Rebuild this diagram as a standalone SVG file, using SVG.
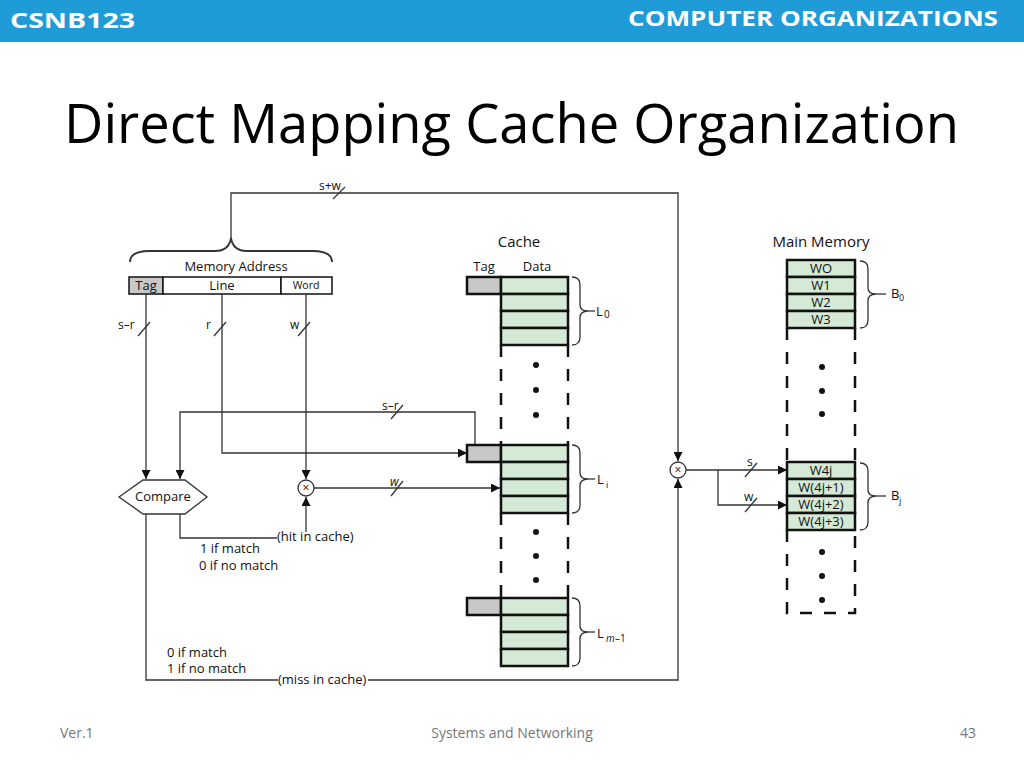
<svg xmlns="http://www.w3.org/2000/svg" width="1024" height="768" viewBox="0 0 1024 768">
<defs>
<marker id="ah" viewBox="0 0 10 10" refX="10" refY="5" markerWidth="9" markerHeight="9" markerUnits="userSpaceOnUse" orient="auto"><path d="M0,0 L10,5 L0,10 z" fill="#111"/></marker>
<style>
text{font-family:"Open Sans","Liberation Sans",sans-serif;fill:#111}
.c{fill:none;stroke:#333;stroke-width:1.3}
.a{marker-end:url(#ah)}
.row{fill:#d4ead6;stroke:#111;stroke-width:2.5}
.tag{fill:#c8c8c8;stroke:#111;stroke-width:2.5}
.dash{stroke:#111;stroke-width:2.5;stroke-dasharray:12,12;fill:none}
.dot{fill:#111}
.s{font-size:13px}
.br{fill:none;stroke:#333;stroke-width:1.3}
</style>
</defs>
<rect width="1024" height="768" fill="#fff"/>
<rect x="0" y="0" width="1024" height="42" fill="#1f9bd7"/>
<text x="10" y="28" font-size="22" font-weight="bold" textLength="125" lengthAdjust="spacingAndGlyphs" style="fill:#fff">CSNB123</text>
<text x="628" y="26" font-size="22" font-weight="bold" textLength="370" lengthAdjust="spacingAndGlyphs" style="fill:#fff">COMPUTER ORGANIZATIONS</text>
<text x="64" y="143" font-size="54" textLength="895" lengthAdjust="spacingAndGlyphs" style="fill:#000">Direct Mapping Cache Organization</text>
<text x="60" y="738" font-size="14" style="fill:#777">Ver.1</text>
<text x="512" y="738" font-size="14" text-anchor="middle" style="fill:#777">Systems and Networking</text>
<text x="960" y="738" font-size="14" style="fill:#777">43</text>

<g id="address">
<path class="br" style="stroke-width:1.8" d="M130,262 Q130,251 150,251 L215,251 Q229,251 231,238 Q233,251 247,251 L312,251 Q332,251 332,262"/>
<text x="236" y="271" class="s" text-anchor="middle">Memory Address</text>
<rect x="129" y="277" width="34" height="17" fill="#c8c8c8" stroke="#111" stroke-width="1.5"/>
<rect x="163" y="277" width="118" height="17" fill="#fff" stroke="#111" stroke-width="1.5"/>
<rect x="281" y="277" width="51" height="17" fill="#fff" stroke="#111" stroke-width="1.5"/>
<text x="146" y="290" class="s" text-anchor="middle">Tag</text>
<text x="222" y="290" class="s" text-anchor="middle">Line</text>
<text x="306" y="289" font-size="10.5" text-anchor="middle">Word</text>
</g>

<g id="compare">
<polygon points="119,497 143,480 185,480 207,497 185,514 143,514" fill="#fff" stroke="#333" stroke-width="1.3"/>
<text x="163" y="501" class="s" text-anchor="middle">Compare</text>
</g>
<g id="mux1"><circle cx="306" cy="488" r="8" fill="#fff" stroke="#333" stroke-width="1.3"/><text x="306" y="492" font-size="12" text-anchor="middle">×</text></g>
<g id="mux2"><circle cx="678" cy="470" r="8" fill="#fff" stroke="#333" stroke-width="1.3"/><text x="678" y="474" font-size="12" text-anchor="middle">×</text></g>

<g id="connectors">
<path class="c a" d="M231,238 V193 H678 V461"/>
<line class="c" x1="333" y1="199" x2="345" y2="187"/>
<text x="319" y="190" font-size="12">s+w</text>
<path class="c a" d="M146,294 V479"/>
<line class="c" x1="138" y1="336" x2="150" y2="322"/><text x="118" y="329" font-size="12">s–r</text>
<path class="c a" d="M222,294 V453 H467"/>
<line class="c" x1="214" y1="336" x2="226" y2="322"/><text x="206" y="329" font-size="12">r</text>
<path class="c a" d="M306,294 V479"/>
<line class="c" x1="298" y1="336" x2="310" y2="322"/><text x="290" y="329" font-size="12">w</text>
<path class="c a" d="M475,445 V412 H180 V479"/>
<line class="c" x1="391" y1="419" x2="403" y2="405"/><text x="382" y="410" font-size="12">s–r</text>
<path class="c a" d="M314,488 H500"/>
<line class="c" x1="391" y1="496" x2="403" y2="481"/><text x="390" y="486" font-size="12" font-style="italic" font-family="Liberation Serif">w</text>
<path class="c" d="M180,514 V538 H277"/>
<text x="277" y="541" class="s">(hit in cache)</text>
<path class="c a" d="M306,532 V497"/>
<text x="200" y="553" class="s">1 if match</text>
<text x="199" y="570" class="s">0 if no match</text>
<path class="c" d="M146,514 V680 H278"/>
<text x="278" y="684" class="s">(miss in cache)</text>
<path class="c a" d="M368,680 H678 V479"/>
<text x="167" y="657" class="s">0 if match</text>
<text x="167" y="673" class="s">1 if no match</text>
<path class="c a" d="M686,470 H787"/>
<line class="c" x1="745" y1="477" x2="757" y2="463"/><text x="747" y="466" font-size="12">s</text>
<path class="c a" d="M718,470 V505 H787"/>
<line class="c" x1="745" y1="512" x2="757" y2="498"/><text x="744" y="501" font-size="12">w</text>
</g>

<g id="cache">
<text x="519" y="247" font-size="15" text-anchor="middle">Cache</text>
<text x="484" y="271" class="s" text-anchor="middle">Tag</text>
<text x="537" y="271" class="s" text-anchor="middle">Data</text>
<g id="L0">
<rect class="tag" x="467" y="277" width="34" height="17"/>
<rect class="row" x="501" y="277" width="67" height="17"/><rect class="row" x="501" y="294" width="67" height="17"/><rect class="row" x="501" y="311" width="67" height="17"/><rect class="row" x="501" y="328" width="67" height="17"/>
<path class="br" d="M572,277 Q580,277 580,285 V305 Q580,311 588,311 Q580,311 580,318 V337 Q580,345 572,345"/>
<line class="br" x1="588" y1="311" x2="595" y2="311"/>
<text x="596" y="316" class="s">L</text><text x="604" y="318" font-size="10">0</text>
</g>
<g id="Li">
<rect class="tag" x="467" y="445" width="34" height="17"/>
<rect class="row" x="501" y="445" width="67" height="17"/><rect class="row" x="501" y="462" width="67" height="17"/><rect class="row" x="501" y="479" width="67" height="17"/><rect class="row" x="501" y="496" width="67" height="17"/>
<path class="br" d="M572,445 Q580,445 580,453 V473 Q580,479 588,479 Q580,479 580,486 V505 Q580,513 572,513"/>
<line class="br" x1="588" y1="479" x2="595" y2="479"/>
<text x="597" y="484" class="s">L</text><text x="606" y="488" font-size="9">i</text>
</g>
<g id="Lm1">
<rect class="tag" x="467" y="598" width="34" height="17"/>
<rect class="row" x="501" y="598" width="67" height="17"/><rect class="row" x="501" y="615" width="67" height="17"/><rect class="row" x="501" y="632" width="67" height="17"/><rect class="row" x="501" y="649" width="67" height="17"/>
<path class="br" d="M572,598 Q580,598 580,606 V626 Q580,632 588,632 Q580,632 580,639 V658 Q580,666 572,666"/>
<line class="br" x1="588" y1="632" x2="595" y2="632"/>
<text x="597" y="638" class="s">L</text><text x="606" y="642" font-size="10" font-style="italic">m</text><text x="615" y="642" font-size="10">–1</text>
</g>
<path class="dash" d="M501,345 V445 M568,345 V445 M501,513 V598 M568,513 V598"/>
<circle class="dot" cx="536" cy="365" r="3"/><circle class="dot" cx="536" cy="390" r="3"/><circle class="dot" cx="536" cy="415" r="3"/>
<circle class="dot" cx="536" cy="532" r="3"/><circle class="dot" cx="536" cy="556" r="3"/><circle class="dot" cx="536" cy="580" r="3"/>
</g>

<g id="memory">
<text x="821" y="247" font-size="15" text-anchor="middle">Main Memory</text>
<g id="B0">
<rect class="row" x="787" y="260" width="68" height="17"/><rect class="row" x="787" y="277" width="68" height="17"/><rect class="row" x="787" y="294" width="68" height="17"/><rect class="row" x="787" y="311" width="68" height="17"/>
<text x="821" y="273" class="s" text-anchor="middle">WO</text><text x="821" y="290" class="s" text-anchor="middle">W1</text><text x="821" y="307" class="s" text-anchor="middle">W2</text><text x="821" y="324" class="s" text-anchor="middle">W3</text>
<path class="br" d="M860,261 Q868,261 868,269 V288 Q868,294 876,294 Q868,294 868,301 V320 Q868,328 860,328"/>
<line class="br" x1="876" y1="294" x2="886" y2="294"/>
<text x="891" y="298" class="s">B</text><text x="899" y="301" font-size="9">0</text>
</g>
<g id="Bj">
<rect class="row" x="787" y="462" width="68" height="17"/><rect class="row" x="787" y="479" width="68" height="17"/><rect class="row" x="787" y="496" width="68" height="17"/><rect class="row" x="787" y="513" width="68" height="17"/>
<text x="821" y="475" class="s" text-anchor="middle">W4j</text><text x="821" y="492" class="s" text-anchor="middle">W(4j+1)</text><text x="821" y="509" class="s" text-anchor="middle">W(4j+2)</text><text x="821" y="526" class="s" text-anchor="middle">W(4j+3)</text>
<path class="br" d="M860,463 Q868,463 868,471 V490 Q868,496 876,496 Q868,496 868,503 V522 Q868,530 860,530"/>
<line class="br" x1="876" y1="496" x2="886" y2="496"/>
<text x="891" y="500" class="s">B</text><text x="899" y="504" font-size="9">j</text>
</g>
<path class="dash" d="M787,328 V462 M855,328 V462 M787,530 V613 H855 V530"/>
<circle class="dot" cx="822" cy="367" r="3"/><circle class="dot" cx="822" cy="391" r="3"/><circle class="dot" cx="822" cy="414" r="3"/>
<circle class="dot" cx="822" cy="552" r="3"/><circle class="dot" cx="822" cy="576" r="3"/><circle class="dot" cx="822" cy="600" r="3"/>
</g>
</svg>
